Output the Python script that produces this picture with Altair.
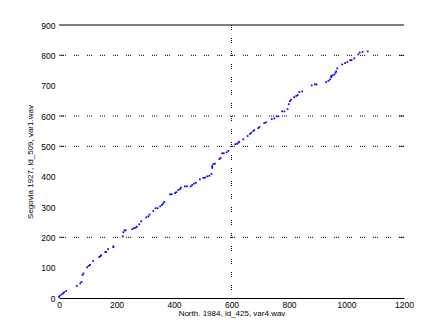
import altair as alt
import pandas as pd

# Data (x: North recording, y: Segovia recording)
xs = [0, 3, 9, 14, 18, 25, 62, 74, 78, 82, 85, 98, 103, 108, 119, 140, 144, 147, 161, 164,
      171, 189, 189, 222, 224, 228, 232, 255, 261, 267, 271, 279, 286, 304, 311, 315, 328, 336, 343, 352,
      358, 363, 366, 386, 392, 404, 408, 415, 421, 424, 438, 445, 458, 463, 470, 476, 490, 502, 508, 516,
      523, 530, 533, 533, 537, 542, 558, 562, 568, 573, 583, 589, 613, 619, 624, 627, 641, 656, 664, 669,
      676, 679, 693, 697, 714, 720, 740, 749, 757, 763, 776, 784, 795, 799, 803, 807, 818, 825, 830, 836,
      846, 879, 890, 896, 929, 937, 943, 947, 947, 952, 958, 962, 964, 968, 985, 995, 1003, 1013, 1018, 1027,
      1041, 1046, 1056, 1074]
ys = [4, 8, 12, 15, 19, 23, 40, 48, 53, 76, 81, 101, 106, 109, 122, 135, 138, 141, 151, 152,
      161, 168, 170, 203, 217, 223, 223, 227, 230, 232, 235, 243, 253, 266, 269, 275, 287, 296, 296, 302,
      307, 312, 317, 342, 342, 346, 349, 356, 359, 364, 368, 368, 368, 372, 377, 380, 391, 396, 397, 401,
      403, 409, 429, 435, 441, 443, 458, 462, 477, 477, 480, 485, 507, 508, 512, 515, 523, 534, 541, 545,
      551, 553, 560, 564, 577, 579, 590, 592, 599, 599, 615, 615, 623, 639, 649, 654, 662, 666, 669, 679,
      681, 701, 704, 704, 712, 716, 721, 728, 732, 734, 737, 743, 747, 757, 770, 774, 778, 784, 784, 790,
      803, 809, 811, 813]

x_ticks = [0, 200, 400, 600, 800, 1000, 1200]
y_ticks = [0, 100, 200, 300, 400, 500, 600, 700, 800, 900]
h_grid = [200, 500, 600, 800]   # dotted grid rows visible in the reference
v_grid = [600]                  # dotted grid column visible in the reference
top_line = [900]

x_title = "North. 1984, ld_425, var4.wav"
y_title = "Segovia 1927, ld_509, var1.wav"

pts = pd.DataFrame({"x": xs, "y": ys})
hg = pd.DataFrame({"y": h_grid})
vg = pd.DataFrame({"x": v_grid})
tl = pd.DataFrame({"y": top_line})

xscale = alt.Scale(domain=[0, 1200], nice=False, zero=False)
yscale = alt.Scale(domain=[0, 900], nice=False, zero=False)

FONT = "Liberation Sans"
dash = [1, 1, 1, 1, 1, 8]

xaxis = alt.Axis(values=x_ticks, format="d", title=x_title, grid=False, ticks=False, domain=True,
                 domainColor="black", domainWidth=1, labelPadding=2, labelFontSize=8.5,
                 labelFont=FONT, labelColor="black", titleFont=FONT, titleFontSize=8,
                 titleFontWeight="normal", titleColor="black", titlePadding=1,
                 labelFlush=False)
yaxis = alt.Axis(values=y_ticks, format="d", title=y_title, grid=False, ticks=False, domain=False,
                 labelPadding=4, labelFontSize=8.5, labelFont=FONT, labelColor="black",
                 titleFont=FONT, titleFontSize=8, titleFontWeight="normal",
                 titleColor="black", titlePadding=6, labelFlush=False)

points = alt.Chart(pts).mark_square(size=3, color="#0000ff", opacity=1).encode(
    x=alt.X("x:Q", scale=xscale, axis=xaxis, title=x_title),
    y=alt.Y("y:Q", scale=yscale, axis=yaxis, title=y_title),
)

hgrid = alt.Chart(hg).mark_rule(color="black", strokeWidth=1, strokeDash=dash).encode(
    y=alt.Y("y:Q", scale=yscale, axis=yaxis, title=y_title)
)
vgrid = alt.Chart(vg).mark_rule(color="black", strokeWidth=1, strokeDash=dash).encode(
    x=alt.X("x:Q", scale=xscale, axis=xaxis, title=x_title)
)
top = alt.Chart(tl).mark_rule(color="black", strokeWidth=1).encode(
    y=alt.Y("y:Q", scale=yscale, axis=yaxis, title=y_title)
)
lticks = alt.Chart(hg).mark_tick(color="black", orient="horizontal", size=5, thickness=1,
                                 xOffset=2.5).encode(
    x=alt.datum(0, scale=xscale, axis=xaxis, title=x_title),
    y=alt.Y("y:Q", scale=yscale, axis=yaxis, title=y_title),
)
rticks = alt.Chart(hg).mark_tick(color="black", orient="horizontal", size=5, thickness=1,
                                 xOffset=-2.5).encode(
    x=alt.datum(1200, scale=xscale, axis=xaxis, title=x_title),
    y=alt.Y("y:Q", scale=yscale, axis=yaxis, title=y_title),
)

chart = alt.layer(hgrid, vgrid, top, lticks, rticks, points).properties(
    width=345, height=273,
    padding={"left": 59, "top": 25, "right": 43, "bottom": 37},
    autosize=alt.AutoSizeParams(type="none"),
    background="white",
).configure_view(stroke=None)

chart.save("out.html", embed_options={"renderer": "svg", "actions": False})
